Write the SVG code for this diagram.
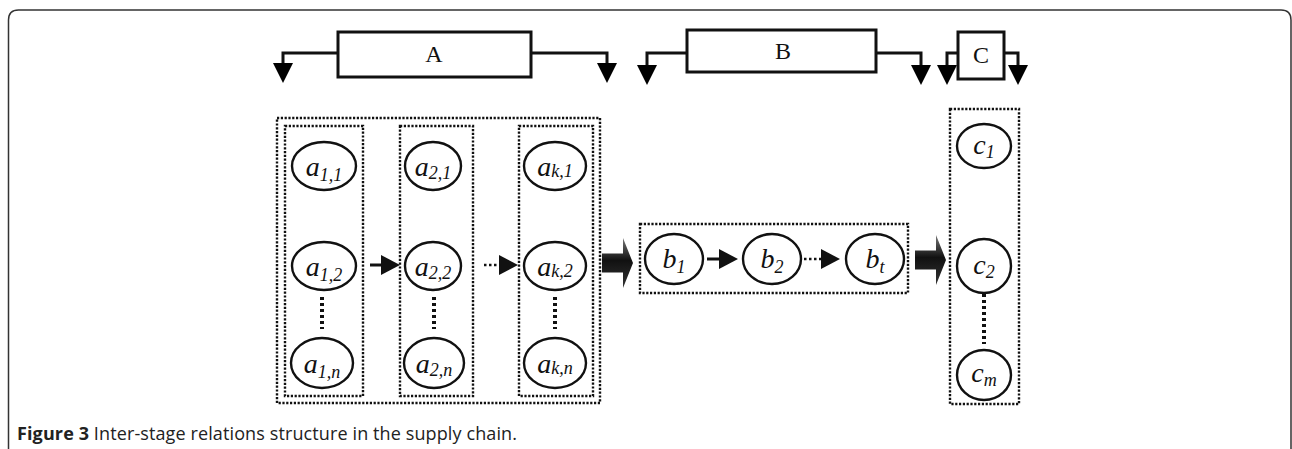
<svg xmlns="http://www.w3.org/2000/svg" width="1292" height="449" viewBox="0 0 1292 449">
<style>
.blk{fill:#fff;stroke:#111;stroke-width:3}
.blbl{font-family:"Liberation Serif",serif;font-size:24px;fill:#111;text-anchor:middle}
.hook{fill:none;stroke:#111;stroke-width:3}
.dot{fill:none;stroke:#111;stroke-width:2.4;stroke-dasharray:2.2,1.6}
.ell{fill:#fff;stroke:#111;stroke-width:2.4}
.lbl{font-family:"Liberation Serif",serif;font-style:italic;font-size:28px;fill:#111;text-anchor:middle}
.sub{font-size:18px}
.vdots{stroke:#111;stroke-width:4;stroke-dasharray:3,3}
.ln{stroke:#111;stroke-width:3;fill:none}
.dln{stroke:#111;stroke-width:2.4;stroke-dasharray:2.5,2.5;fill:none}
.cap{font-family:"Open Sans","Liberation Sans",sans-serif;font-size:18px;fill:#222}
</style>
<defs>
<linearGradient id="bg" x1="0" y1="0" x2="0" y2="1">
<stop offset="0" stop-color="#777"/><stop offset="0.45" stop-color="#111"/><stop offset="1" stop-color="#333"/>
</linearGradient>
<path id="big" d="M0,-9.5 H21 V-25 L31,0 L21,25 V9.5 H0 Z"/>
<path id="down" d="M-10,0 H10 L0,20 Z"/>
</defs>

<path d="M8.5,449 V20 Q8.5,10 18.5,10 H1281 Q1291,10 1291,20 V449" fill="none" stroke="#333" stroke-width="1.5"/>

<g id="connectors">
  <path class="hook" d="M338,53 H283 V64"/>
  <use href="#down" x="283" y="63"/>
  <path class="hook" d="M531,53 H607 V64"/>
  <use href="#down" x="607" y="63"/>
  <path class="hook" d="M687,53 H647 V66"/>
  <use href="#down" x="647" y="65"/>
  <path class="hook" d="M876,53 H921 V66"/>
  <use href="#down" x="921" y="65"/>
  <path class="hook" d="M958,53 H947 V66"/>
  <use href="#down" x="947" y="65"/>
  <path class="hook" d="M1004,53 H1018 V66"/>
  <use href="#down" x="1018" y="65"/>
  <path class="ln" d="M370,265 H382"/>
  <path d="M381,255 L400,265 L381,275 Z" fill="#111"/>
  <path class="dln" d="M484,265 H500"/>
  <path d="M499,255 L518,265 L499,275 Z" fill="#111"/>
  <path class="ln" d="M707,259 H720"/>
  <path d="M719,249 L738,259 L719,269 Z" fill="#111"/>
  <path class="dln" d="M804,259 H822"/>
  <path d="M821,249 L840,259 L821,269 Z" fill="#111"/>
  <path class="vdots" d="M322,297 V329"/>
  <path class="vdots" d="M434,297 V329"/>
  <path class="vdots" d="M555,297 V329"/>
  <path class="vdots" d="M984,294 V344"/>
  <use href="#big" x="602" y="263" fill="url(#bg)"/>
  <use href="#big" x="915" y="260" fill="url(#bg)"/>
</g>

<g id="blockA"><rect class="blk" x="338" y="32" width="193" height="45"/><text class="blbl" x="434" y="62">A</text></g>
<g id="blockB"><rect class="blk" x="687" y="30" width="189" height="42"/><text class="blbl" x="783" y="59">B</text></g>
<g id="blockC"><rect class="blk" x="958" y="32" width="46" height="47"/><text class="blbl" x="981" y="63">C</text></g>

<g id="groupA"><rect class="dot" x="277" y="118" width="323" height="285"/></g>
<g id="col1"><rect class="dot" x="285" y="126" width="78" height="270"/></g>
<g id="col2"><rect class="dot" x="400" y="126" width="73" height="270"/></g>
<g id="colk"><rect class="dot" x="519" y="126" width="74" height="270"/></g>

<g id="a11"><ellipse class="ell" cx="324" cy="166" rx="32" ry="24"/><text class="lbl" x="324" y="176">a<tspan class="sub" dy="5">1,1</tspan></text></g>
<g id="a12"><ellipse class="ell" cx="324" cy="266" rx="32" ry="24"/><text class="lbl" x="324" y="276">a<tspan class="sub" dy="5">1,2</tspan></text></g>
<g id="a1n"><ellipse class="ell" cx="322" cy="363" rx="31" ry="25"/><text class="lbl" x="322" y="373">a<tspan class="sub" dy="5">1,n</tspan></text></g>
<g id="a21"><ellipse class="ell" cx="433" cy="166" rx="28" ry="24"/><text class="lbl" x="433" y="176">a<tspan class="sub" dy="3">2,1</tspan></text></g>
<g id="a22"><ellipse class="ell" cx="433" cy="266" rx="28" ry="24"/><text class="lbl" x="433" y="276">a<tspan class="sub" dy="3">2,2</tspan></text></g>
<g id="a2n"><ellipse class="ell" cx="434" cy="363" rx="30" ry="25"/><text class="lbl" x="434" y="373">a<tspan class="sub" dy="3">2,n</tspan></text></g>
<g id="ak1"><ellipse class="ell" cx="555" cy="166" rx="31" ry="24"/><text class="lbl" x="555" y="176">a<tspan class="sub" dy="1">k,1</tspan></text></g>
<g id="ak2"><ellipse class="ell" cx="555" cy="266" rx="31" ry="24"/><text class="lbl" x="555" y="276">a<tspan class="sub" dy="1">k,2</tspan></text></g>
<g id="akn"><ellipse class="ell" cx="555" cy="363" rx="31" ry="25"/><text class="lbl" x="555" y="373">a<tspan class="sub" dy="1">k,n</tspan></text></g>

<g id="groupB"><rect class="dot" x="640" y="224" width="268" height="69"/></g>
<g id="b1"><ellipse class="ell" cx="674" cy="259" rx="29" ry="25"/><text class="lbl" x="674" y="268">b<tspan class="sub" dy="5">1</tspan></text></g>
<g id="b2"><ellipse class="ell" cx="772" cy="259" rx="29" ry="25"/><text class="lbl" x="772" y="268">b<tspan class="sub" dy="5">2</tspan></text></g>
<g id="bt"><ellipse class="ell" cx="875" cy="259" rx="29" ry="25"/><text class="lbl" x="875" y="268">b<tspan class="sub" dy="5">t</tspan></text></g>

<g id="groupC"><rect class="dot" x="950" y="109" width="69" height="295"/></g>
<g id="c1"><ellipse class="ell" cx="984" cy="146" rx="27" ry="22"/><text class="lbl" x="984" y="154">c<tspan class="sub" dy="4">1</tspan></text></g>
<g id="c2"><ellipse class="ell" cx="984" cy="266" rx="27" ry="27"/><text class="lbl" x="984" y="274">c<tspan class="sub" dy="4">2</tspan></text></g>
<g id="cm"><ellipse class="ell" cx="984" cy="375" rx="27" ry="25"/><text class="lbl" x="984" y="382">c<tspan class="sub" dy="4">m</tspan></text></g>

<text class="cap" x="17" y="440" textLength="500" lengthAdjust="spacing"><tspan font-weight="bold">Figure 3</tspan> Inter-stage relations structure in the supply chain.</text>
</svg>
